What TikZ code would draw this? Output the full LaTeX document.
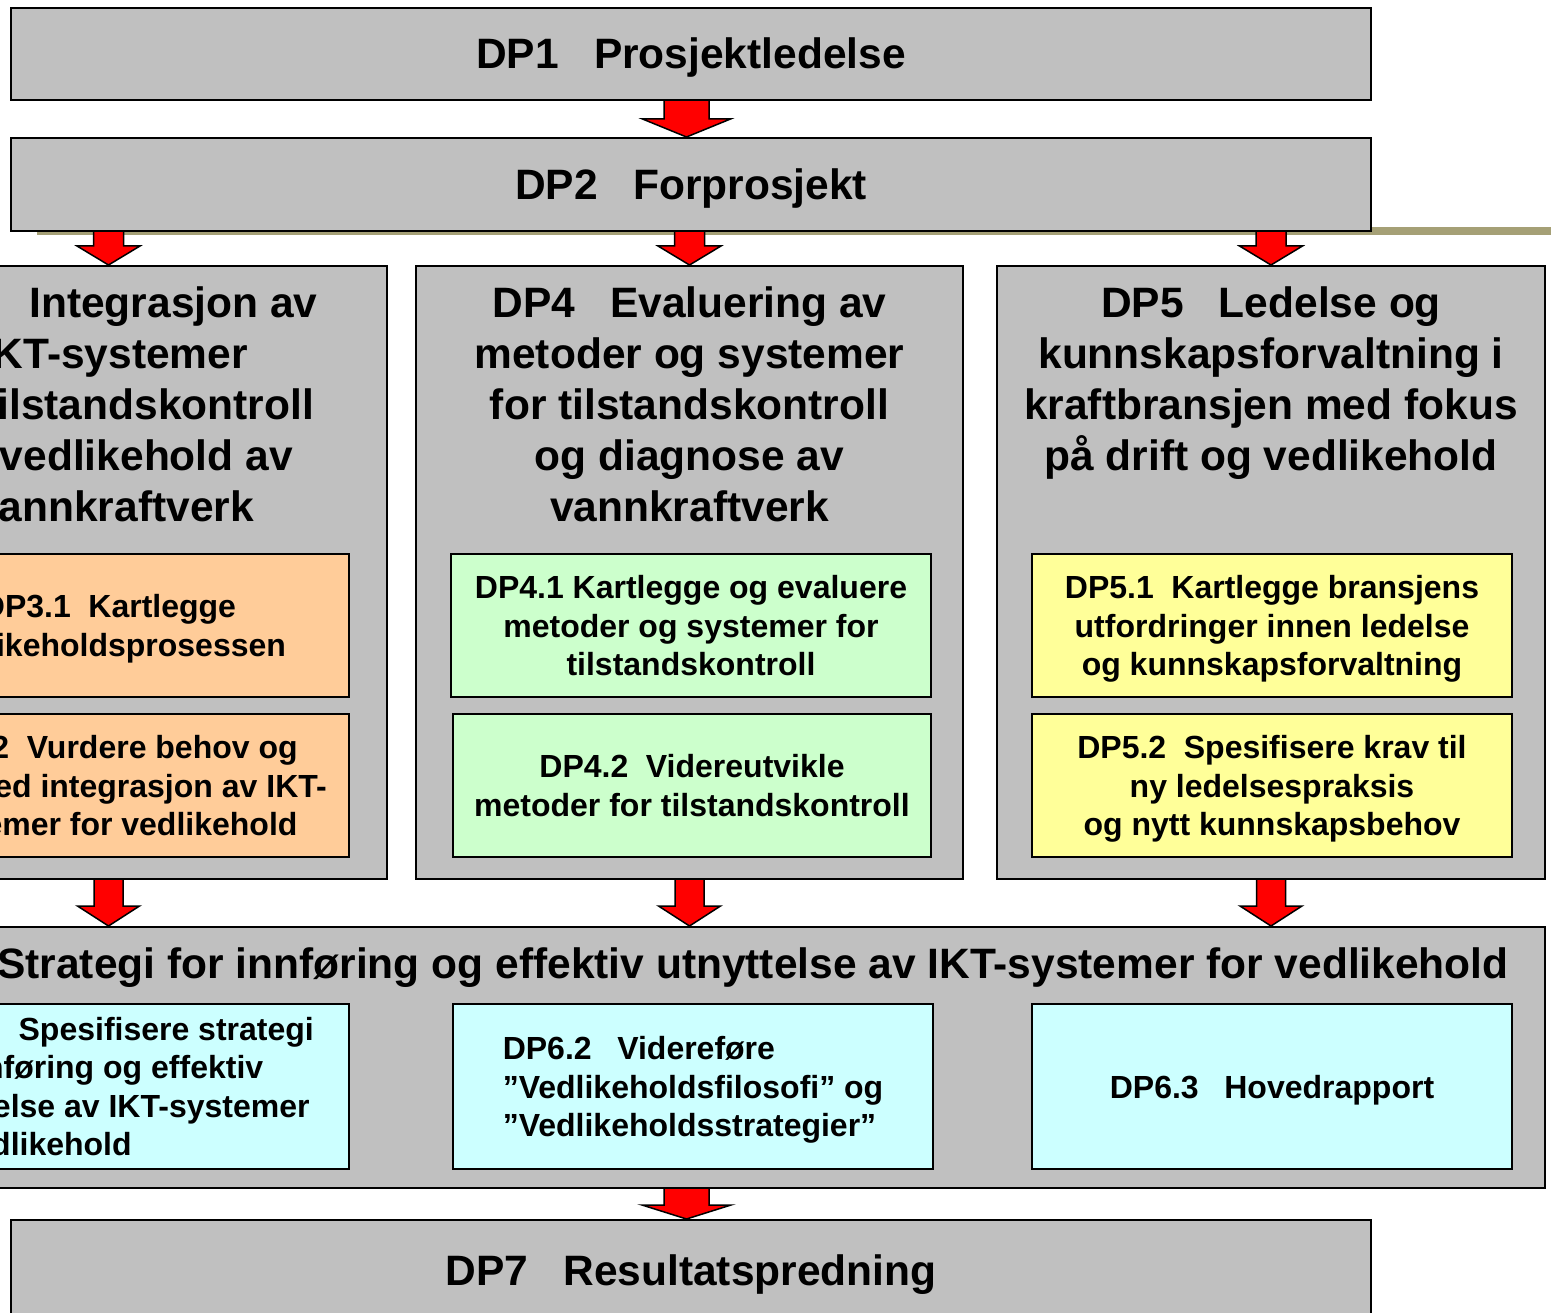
\documentclass[tikz,border=0pt]{standalone}
\usepackage{fontspec}
\setmainfont{Liberation Sans}
\usetikzlibrary{calc,backgrounds}

\definecolor{boxgray}{RGB}{192,192,192}
\definecolor{orangesub}{RGB}{255,204,153}
\definecolor{greensub}{RGB}{204,255,204}
\definecolor{yellowsub}{RGB}{255,255,153}
\definecolor{cyansub}{RGB}{204,255,255}
\definecolor{olivebar}{RGB}{165,160,118}

\newcommand{\titlefont}{\fontsize{42.5}{51}\selectfont\bfseries}
\newcommand{\subfont}{\fontsize{32}{38.5}\selectfont\bfseries}
\newcommand{\titlegap}{\hspace{0.83em}}
\newcommand{\subgap}{\hspace{0.55em}}
\newcommand{\widegap}{\hspace{0.8em}}

% block arrow from the bottom edge of one box (#1) down to a tip point (#2)
% #3 shaft half width, #4 head half width, #5 head length
\newcommand{\blockarrow}[5]{%
  \draw[blockarrowstyle] let \p1=(#1), \p2=(#2) in
    (\x2-#3,\y1) -- (\x2-#3,\y2+#5) -- (\x2-#4,\y2+#5) -- (\x2,\y2)
    -- (\x2+#4,\y2+#5) -- (\x2+#3,\y2+#5) -- (\x2+#3,\y1);}

\begin{document}
\begin{tikzpicture}[x=1pt,y=-1pt,
  mainbox/.style={draw=black, line width=2pt, fill=boxgray, rectangle, inner sep=0pt},
  titletext/.style={font=\titlefont, align=center, inner sep=0pt},
  headline/.style={text height=30pt, text depth=0pt},
  subbox/.style={draw=black, line width=1.6pt, rectangle, inner sep=0pt,
                 font=\subfont, align=center, minimum width=480pt, text depth=0pt},
  blockarrowstyle/.style={draw=black, line width=1.5pt, fill=red, line join=miter}
]
\useasboundingbox (0,0) rectangle (1551,1313);
\clip (0,0) rectangle (1551,1313);

% ---- project levels ----
\node[mainbox, titletext, headline, minimum width=1360pt, minimum height=92pt]
  (dp1) at (691,54) {DP1\titlegap Prosjektledelse};
\node[mainbox, titletext, headline, minimum width=1360pt, minimum height=93pt]
  (dp2) at (691,184.5) {DP2\titlegap Forprosjekt};

% ---- three parallel work packages ----
\node[mainbox, minimum width=557pt, minimum height=613pt] (dp3) at (108.5,572.5) {};
\node[mainbox, minimum width=547pt, minimum height=613pt] (dp4) at (689.5,572.5) {};
\node[mainbox, minimum width=548pt, minimum height=613pt] (dp5) at (1271,572.5) {};

\node[titletext, anchor=north] (dp3t) at ([xshift=6pt,yshift=-22pt]dp3.north)
  {DP3\titlegap Integrasjon av\\IKT-systemer\\for tilstandskontroll\\og vedlikehold av\\vannkraftverk};
\node[titletext, anchor=north] (dp4t) at ([yshift=-22pt]dp4.north)
  {DP4\titlegap Evaluering av\\metoder og systemer\\for tilstandskontroll\\og diagnose av\\vannkraftverk};
\node[titletext, anchor=north] (dp5t) at ([yshift=-22pt]dp5.north)
  {DP5\titlegap Ledelse og\\kunnskapsforvaltning i\\kraftbransjen med fokus\\på drift og vedlikehold};

\node[subbox, fill=orangesub, minimum height=143pt] (dp31) at (109,625.5)
  {DP3.1\subgap Kartlegge\\vedlikeholdsprosessen};
\node[subbox, fill=orangesub, minimum height=143pt] (dp32) at (109,785.5)
  {DP3.2\subgap Vurdere behov og\\nytte ved integrasjon av IKT-\\systemer for vedlikehold};

\node[subbox, fill=greensub, minimum height=143pt] (dp41) at (691,625.5)
  {DP4.1 Kartlegge og evaluere\\metoder og systemer for\\tilstandskontroll};
\node[subbox, fill=greensub, minimum height=143pt, minimum width=478pt] (dp42) at (692,785.5)
  {DP4.2\subgap Videreutvikle\\metoder for tilstandskontroll};

\node[subbox, fill=yellowsub, minimum height=143pt] (dp51) at (1272,625.5)
  {DP5.1\subgap Kartlegge bransjens\\utfordringer innen ledelse\\og kunnskapsforvaltning};
\node[subbox, fill=yellowsub, minimum height=143pt] (dp52) at (1272,785.5)
  {DP5.2\subgap Spesifisere krav til\\ny ledelsespraksis\\og nytt kunnskapsbehov};

% ---- strategy package ----
\node[mainbox, minimum width=1702pt, minimum height=261pt] (dp6) at (694,1057.5) {};
\node[titletext, anchor=base] (dp6t) at ([yshift=-52pt]dp6.north)
  {DP6\titlegap Strategi for innføring og effektiv utnyttelse av IKT-systemer for vedlikehold};

\node[subbox, fill=cyansub, minimum height=165pt, align=left] (dp61) at (109,1086.5)
  {DP6.1\widegap Spesifisere strategi\\for innføring og effektiv\\utnyttelse av IKT-systemer\\for vedlikehold};
\node[subbox, fill=cyansub, minimum height=165pt, align=left] (dp62) at (693,1086.5)
  {DP6.2\widegap Videreføre\\”Vedlikeholdsfilosofi” og\\”Vedlikeholdsstrategier”};
\node[subbox, fill=cyansub, minimum height=165pt] (dp63) at (1272,1086.5)
  {DP6.3\widegap Hovedrapport};

% ---- dissemination ----
\node[mainbox, titletext, headline, minimum width=1360pt, minimum height=100pt]
  (dp7) at (691,1270) {DP7\titlegap Resultatspredning};

% ---- underlay: shadow bar and flow arrows ----
\begin{scope}[on background layer]
  \fill[white] (0,0) rectangle (1551,1313);
  \fill[olivebar] (37,227) rectangle (1551,235);
  \blockarrow{dp1.south}{[xshift=-4.5pt]dp2.north}{22.5pt}{44pt}{18pt}
  \blockarrow{dp2.south}{dp3.north}{15pt}{31.5pt}{19pt}
  \blockarrow{dp2.south}{dp4.north}{15pt}{31.5pt}{19pt}
  \blockarrow{dp2.south}{dp5.north}{15pt}{31.5pt}{19pt}
  \blockarrow{dp3.south}{dp3.south |- dp6.north}{14.5pt}{31pt}{20pt}
  \blockarrow{dp4.south}{dp4.south |- dp6.north}{14.5pt}{31pt}{20pt}
  \blockarrow{dp5.south}{dp5.south |- dp6.north}{14.5pt}{31pt}{20pt}
  \blockarrow{dp6.south}{[xshift=-4.5pt]dp7.north}{22.5pt}{44.5pt}{14pt}
\end{scope}
\end{tikzpicture}
\end{document}
